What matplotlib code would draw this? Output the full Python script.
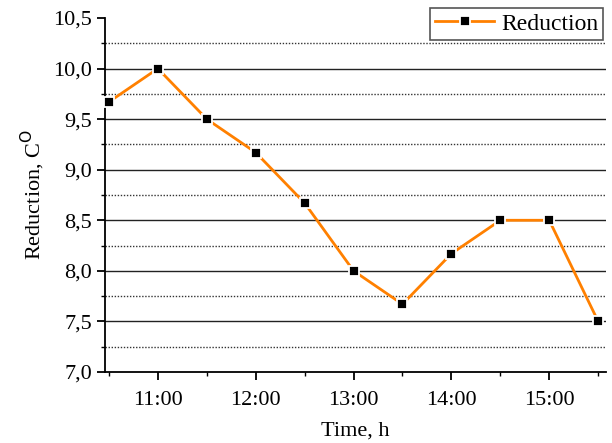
import matplotlib.pyplot as plt
import numpy as np
from matplotlib.ticker import MultipleLocator, FuncFormatter

plt.rcParams['font.family'] = ['Liberation Serif', 'DejaVu Serif']

# measurement times (hours) and temperature reduction
hours = [10.5, 11.0, 11.5, 12.0, 12.5, 13.0, 13.5, 14.0, 14.5, 15.0, 15.5]
reduction = [9.67, 10.0, 9.5, 9.17, 8.67, 8.0, 7.67, 8.17, 8.5, 8.5, 7.5]

fig = plt.figure(figsize=(6.12, 4.43), dpi=100)
ax = fig.add_axes([0.1716, 0.1603, 0.8186, 0.7991])

ax.set_xlim(10.46, 15.58)
ax.set_ylim(7.0, 10.5)

# horizontal grid: solid at half units, dotted in between (none on the top edge)
for y in np.arange(7.5, 10.5, 0.5):
    ax.axhline(y, color='#222222', lw=1.0, zorder=1)
for y in np.arange(7.25, 10.5, 0.5):
    ax.axhline(y, color='#333333', lw=1.0, ls=(0, (1, 1.2)), zorder=1)

ax.plot(hours, reduction, color='#ff8000', lw=2.0, marker='s', ms=7.5,
        mfc='black', mec='white', mew=1.3, label='Reduction', zorder=3,
        clip_on=False)

ax.xaxis.set_major_locator(MultipleLocator(1))
ax.xaxis.set_minor_locator(MultipleLocator(0.5))
ax.yaxis.set_major_locator(MultipleLocator(0.5))
ax.yaxis.set_minor_locator(MultipleLocator(0.25))
ax.xaxis.set_major_formatter(FuncFormatter(lambda v, p: f"{int(v)}:00"))
ax.yaxis.set_major_formatter(FuncFormatter(lambda v, p: f"{v:.1f}".replace('.', ',')))

for s in ['top', 'right']:
    ax.spines[s].set_visible(False)
for s in ['left', 'bottom']:
    ax.spines[s].set_linewidth(1.3)

ax.tick_params(which='major', direction='out', length=6, width=1.3, labelsize=16)
ax.tick_params(which='minor', direction='out', length=3, width=1.0)
ax.tick_params(axis='x', pad=8)

ax.set_xlabel('Time, h', fontsize=16, labelpad=8)
ax.set_ylabel('Reduction, C$^{\\mathrm{O}}$', fontsize=16, labelpad=4)

leg = fig.legend(loc='upper right', bbox_to_anchor=(0.986, 0.982), fontsize=17,
                 frameon=True, fancybox=False, edgecolor='#555555', framealpha=1,
                 handlelength=2.5, borderpad=0.22, handletextpad=0.3, borderaxespad=0)
leg.get_frame().set_linewidth(1.2)

fig.savefig('out.png', dpi=100)
